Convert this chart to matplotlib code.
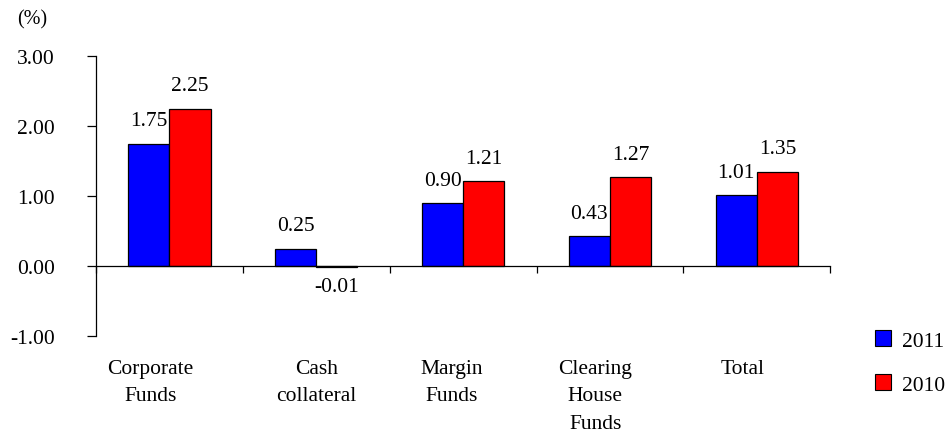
import matplotlib
matplotlib.use("Agg")
import matplotlib.pyplot as plt
import numpy as np
from matplotlib.patches import Patch
from matplotlib.transforms import blended_transform_factory

categories = ["Corporate\nFunds", "Cash\ncollateral", "Margin\nFunds", "Clearing\nHouse\nFunds", "Total"]
values_2011 = [1.75, 0.25, 0.90, 0.43, 1.01]
values_2010 = [2.25, -0.01, 1.21, 1.27, 1.35]
series_names = ["2011", "2010"]
yticks = [-1.0, 0.0, 1.0, 2.0, 3.0]

plt.rcParams['font.family'] = ['Liberation Serif', 'DejaVu Serif']
plt.rcParams['font.size'] = 15.5

fig = plt.figure(figsize=(9.5, 4.35), dpi=100)
ax = fig.add_axes([0.101, 0.225, 0.773, 0.644])

x = np.arange(len(categories)) + 0.5
w = 0.28
b1 = ax.bar(x - w / 2, values_2011, w, color="#0000FF", edgecolor="black", linewidth=0.9)
b2 = ax.bar(x + w / 2, values_2010, w, color="#FF0000", edgecolor="black", linewidth=0.9)

for bars, vals in ((b1, values_2011), (b2, values_2010)):
    for rect, v in zip(bars, vals):
        cx = rect.get_x() + rect.get_width() / 2
        if v >= 0:
            ax.annotate(f"{v:.2f}", (cx, v), xytext=(0, 9.5), textcoords="offset points",
                        ha="center", va="bottom")
        else:
            ax.annotate(f"{v:.2f}", (cx, v), xytext=(0, -7), textcoords="offset points",
                        ha="center", va="top")

ax.set_xlim(0, len(categories))
ax.set_ylim(-1.0, 3.0)
ax.set_yticks(yticks)
ax.set_yticklabels([f"{t:.2f}" for t in yticks])
ax.set_xticks(np.arange(len(categories) + 1))
ax.set_xticklabels([])

ax.spines['top'].set_visible(False)
ax.spines['right'].set_visible(False)
ax.spines['bottom'].set_position(('data', 0))
ax.spines['bottom'].set_zorder(3)
for s in ('left', 'bottom'):
    ax.spines[s].set_linewidth(0.9)
ax.tick_params(axis='y', direction='out', length=6.5, width=0.9, pad=23)
ax.tick_params(axis='x', direction='out', length=5, width=0.9)

trans = blended_transform_factory(ax.transData, ax.transAxes)
offsets = [-0.13, 0.0, -0.08, -0.1, -0.1]
for xi, lab, off in zip(x, categories, offsets):
    ax.text(xi + off, -0.08, lab, transform=trans, ha="center", va="top",
            multialignment="center", linespacing=1.64)

fig.text(0.018, 0.955, "(%)", ha="left", va="center", fontsize=14.5)

handles = [Patch(facecolor="#0000FF", edgecolor="black", linewidth=0.8),
           Patch(facecolor="#FF0000", edgecolor="black", linewidth=0.8)]
fig.legend(handles, series_names, loc="lower left", bbox_to_anchor=(0.921, 0.09),
           frameon=False, handlelength=0.75, handleheight=0.75, handletextpad=0.5,
           labelspacing=1.1, borderaxespad=0, borderpad=0)

fig.savefig("out.png", dpi=100)
